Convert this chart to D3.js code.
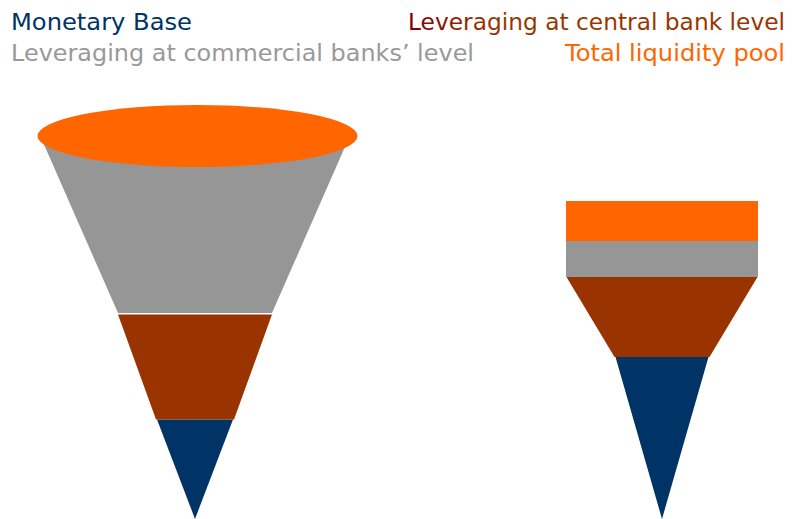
<!DOCTYPE html>
<html>
<head>
<meta charset="utf-8">
<script src="https://cdn.jsdelivr.net/npm/d3@7"></script>
<style>
  body { margin: 0; background: #fff; }
  text { font-family: "DejaVu Sans", "Liberation Sans", Arial, sans-serif; font-size: 23px; }
</style>
</head>
<body>
<div id="chart"></div>
<script>
// Legend entries, in the order of the layers (tip to top)
const layerNames = ["Monetary Base", "Leveraging at central bank level", "Leveraging at commercial banks’ level", "Total liquidity pool"];
const layerColors = ["#003366", "#993300", "#969696", "#ff6600"];

// Left funnel: cone layers, heights measured from the tip, widths at bottom and top
const coneBase = [0, 99.5, 206];
const coneTop = [99.5, 204.5, 379];
const coneBottomWidth = [0, 78, 154];
const coneTopWidth = [76, 154, 306];
// pool at the top of the cone, drawn as an ellipse
const poolLevel = 383;
const poolWidth = 320;
const poolDepth = 62;

// Right funnel: layers from the tip upward
const stackBase = [0, 162, 242, 278];
const stackTop = [162, 242, 278, 318];
const stackBottomWidth = [0, 95, 192, 192];
const stackTopWidth = [93, 191, 192, 192];

const width = 795, height = 519;

const svg = d3.select("#chart").append("svg")
  .attr("width", width)
  .attr("height", height);

// Gradient for the central bank legend text (dark red fading to brown)
const defs = svg.append("defs");
const grad = defs.append("linearGradient")
  .attr("id", "cbGrad")
  .attr("gradientUnits", "userSpaceOnUse")
  .attr("x1", 410).attr("x2", 490).attr("y1", 0).attr("y2", 0);
grad.append("stop").attr("offset", 0).attr("stop-color", "#800000");
grad.append("stop").attr("offset", 1).attr("stop-color", "#993300");

// shared vertical scale (level above the tip)
const y = d3.scaleLinear().domain([0, 400]).range([519, 119]);
// horizontal scales: offset from funnel centre
const xLeft = d3.scaleLinear().domain([-200, 200]).range([-5, 395]);
const xRight = d3.scaleLinear().domain([-200, 200]).range([462, 862]);

const line = d3.line();

function trapezoid(x, b, t, bw, tw) {
  return line([
    [x(-bw / 2), y(b)], [x(bw / 2), y(b)],
    [x(tw / 2), y(t)], [x(-tw / 2), y(t)]
  ]) + "Z";
}

// Left funnel
const left = svg.append("g");
left.selectAll("path")
  .data(coneBase)
  .join("path")
  .attr("d", (d, i) => trapezoid(xLeft, coneBase[i], coneTop[i], coneBottomWidth[i], coneTopWidth[i]))
  .attr("fill", (d, i) => layerColors[i]);

left.append("ellipse")
  .attr("cx", xLeft(0) + 2.5)
  .attr("cy", y(poolLevel))
  .attr("rx", xLeft(poolWidth / 2) - xLeft(0))
  .attr("ry", (y(0) - y(poolDepth)) / 2)
  .attr("fill", layerColors[3]);

// Right funnel
const right = svg.append("g");
right.selectAll("path")
  .data(stackBase)
  .join("path")
  .attr("d", (d, i) => trapezoid(xRight, stackBase[i], stackTop[i], stackBottomWidth[i], stackTopWidth[i]))
  .attr("fill", (d, i) => layerColors[i]);

// Legend
const legend = [
  { i: 0, x: 11, y: 30, len: 181 },
  { i: 2, x: 11, y: 61, len: 463 },
  { i: 1, x: 408, y: 30, len: 377 },
  { i: 3, x: 565, y: 61, len: 220 }
];
svg.selectAll("text.legend")
  .data(legend)
  .join("text")
  .attr("class", "legend")
  .attr("x", d => d.x)
  .attr("y", d => d.y)
  .attr("textLength", d => d.len)
  .attr("lengthAdjust", "spacingAndGlyphs")
  .attr("fill", d => d.i === 1 ? "url(#cbGrad)" : (d.i === 2 ? "#999999" : layerColors[d.i]))
  .text(d => layerNames[d.i]);
</script>
</body>
</html>
